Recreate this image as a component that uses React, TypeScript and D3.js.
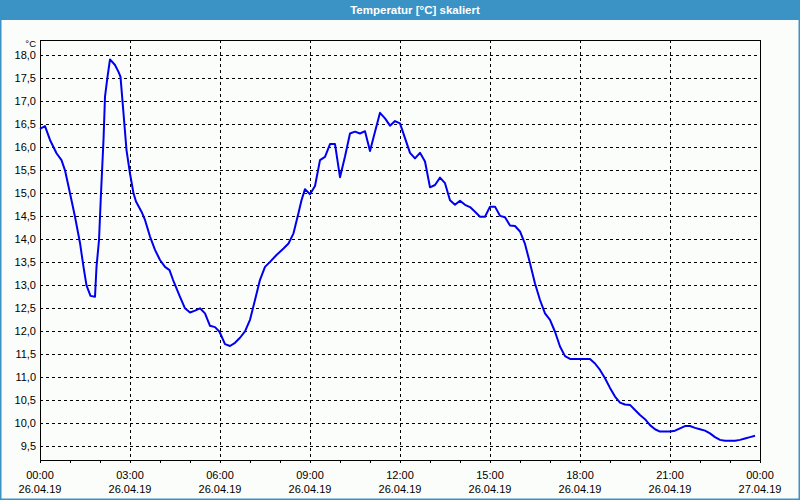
import React from "react";
import * as d3 from "d3";

const minutes = [0, 10, 20, 33, 43, 50, 60, 70, 80, 87, 93, 101, 110, 113, 118, 122, 127, 130, 135, 140, 150, 157, 161, 167, 173, 180, 187, 192, 203, 210, 220, 230, 240, 250, 259, 266, 280, 290, 300, 310, 320, 330, 340, 350, 359, 370, 380, 390, 400, 410, 420, 430, 440, 450, 460, 473, 487, 497, 507, 517, 523, 530, 540, 550, 560, 570, 580, 590, 600, 610, 620, 630, 640, 650, 660, 670, 680, 690, 700, 710, 720, 730, 740, 750, 760, 770, 780, 790, 800, 810, 820, 830, 840, 850, 860, 870, 880, 890, 900, 910, 920, 930, 940, 950, 960, 970, 980, 990, 1000, 1010, 1020, 1030, 1040, 1050, 1060, 1100, 1110, 1120, 1130, 1140, 1150, 1160, 1170, 1180, 1190, 1200, 1210, 1220, 1230, 1240, 1260, 1270, 1280, 1290, 1300, 1310, 1320, 1330, 1340, 1350, 1360, 1370, 1390, 1400, 1410, 1420, 1430];
const temps = [16.40, 16.46, 16.16, 15.87, 15.72, 15.5, 15.0, 14.49, 13.92, 13.4, 13.0, 12.77, 12.75, 13.4, 13.98, 15.0, 16.16, 17.1, 17.53, 17.91, 17.79, 17.64, 17.53, 16.74, 15.94, 15.43, 15.0, 14.82, 14.6, 14.42, 14.06, 13.77, 13.55, 13.4, 13.33, 13.12, 12.75, 12.5, 12.41, 12.45, 12.5, 12.39, 12.12, 12.09, 11.99, 11.72, 11.68, 11.75, 11.86, 12.0, 12.25, 12.68, 13.12, 13.4, 13.51, 13.66, 13.8, 13.91, 14.13, 14.57, 14.85, 15.09, 14.98, 15.16, 15.72, 15.79, 16.07, 16.07, 15.35, 15.8, 16.3, 16.34, 16.3, 16.35, 15.92, 16.34, 16.75, 16.63, 16.47, 16.57, 16.52, 16.2, 15.88, 15.76, 15.88, 15.69, 15.13, 15.18, 15.34, 15.22, 14.85, 14.75, 14.84, 14.75, 14.7, 14.6, 14.49, 14.49, 14.71, 14.71, 14.51, 14.48, 14.3, 14.29, 14.17, 13.9, 13.48, 13.04, 12.68, 12.39, 12.25, 11.99, 11.67, 11.46, 11.4, 11.4, 11.3, 11.16, 10.98, 10.77, 10.58, 10.45, 10.41, 10.4, 10.29, 10.18, 10.09, 9.96, 9.87, 9.82, 9.82, 9.84, 9.89, 9.94, 9.94, 9.9, 9.87, 9.84, 9.78, 9.7, 9.64, 9.62, 9.62, 9.64, 9.67, 9.7, 9.73];

const yTicks = [9.5, 10, 10.5, 11, 11.5, 12, 12.5, 13, 13.5, 14, 14.5, 15, 15.5, 16, 16.5, 17, 17.5, 18];
const xTickHours = [0, 3, 6, 9, 12, 15, 18, 21, 24];
const xTimeLabels = ["00:00", "03:00", "06:00", "09:00", "12:00", "15:00", "18:00", "21:00", "00:00"];
const xDateLabels = ["26.04.19", "26.04.19", "26.04.19", "26.04.19", "26.04.19", "26.04.19", "26.04.19", "26.04.19", "27.04.19"];
const title = "Temperatur [°C] skaliert";
const unit = "°C";

const W = 800, H = 500;
const L = 40, R = 760, T = 40, B = 460;
const BLUE = "#3b92c5";
const FONT = "'Liberation Sans', Arial, sans-serif";

export default function App() {
  const x = d3.scaleLinear().domain([0, 24 * 60]).range([L, R]);
  const y = d3.scaleLinear().domain([9.5, 18.0]).range([446.3, 55.3]);
  const crisp = (v: number) => Math.round(v) + 0.5;
  const line = d3
    .line<number>()
    .x((_, i) => x(minutes[i]))
    .y((d) => y(d));
  const hours = d3.range(0, 25);

  return (
    <svg width={W} height={H} style={{ position: "absolute", left: 0, top: 0 }}>
      <rect x={0} y={0} width={W} height={H} fill="#fbfdfb" />
      <rect x={0.5} y={0.5} width={W - 1} height={H - 1} fill="none" stroke={BLUE} strokeWidth={2} />
      <rect x={0} y={0} width={W} height={20} fill={BLUE} />
      <text x={415} y={14} fill="#fff" fontFamily={FONT} fontWeight="bold" fontSize={11.5} textAnchor="middle">
        {title}
      </text>

      {yTicks.map((t) => (
        <line key={"gy" + t} x1={L} x2={R} y1={crisp(y(t))} y2={crisp(y(t))} stroke="#000" strokeDasharray="3,3" />
      ))}
      {xTickHours.slice(1, -1).map((h) => (
        <line key={"gx" + h} x1={crisp(x(h * 60))} x2={crisp(x(h * 60))} y1={T} y2={B} stroke="#000" strokeDasharray="3,3" />
      ))}

      <rect x={L + 0.5} y={T + 0.5} width={R - L} height={B - T} fill="none" stroke="#000" />

      {hours.map((h) => (
        <line key={"t" + h} x1={crisp(x(h * 60))} x2={crisp(x(h * 60))} y1={B} y2={B + 3} stroke="#000" />
      ))}

      {yTicks.map((t) => (
        <text key={"ly" + t} x={36} y={y(t) + 4} fontFamily={FONT} fontSize={11} textAnchor="end" fill="#000">
          {d3.format(".1f")(t).replace(".", ",")}
        </text>
      ))}
      <text x={36} y={46.5} fontFamily={FONT} fontSize={9.5} textAnchor="end" fill="#000">
        {unit}
      </text>

      {xTickHours.map((h, i) => (
        <g key={"lx" + i}>
          <text x={x(h * 60)} y={479} fontFamily={FONT} fontSize={11} textAnchor="middle" fill="#000">
            {xTimeLabels[i]}
          </text>
          <text x={x(h * 60)} y={493} fontFamily={FONT} fontSize={11} textAnchor="middle" fill="#000">
            {xDateLabels[i]}
          </text>
        </g>
      ))}

      <path d={line(temps) || ""} fill="none" stroke="#0000ee" strokeWidth={2} strokeLinejoin="round" />
    </svg>
  );
}
